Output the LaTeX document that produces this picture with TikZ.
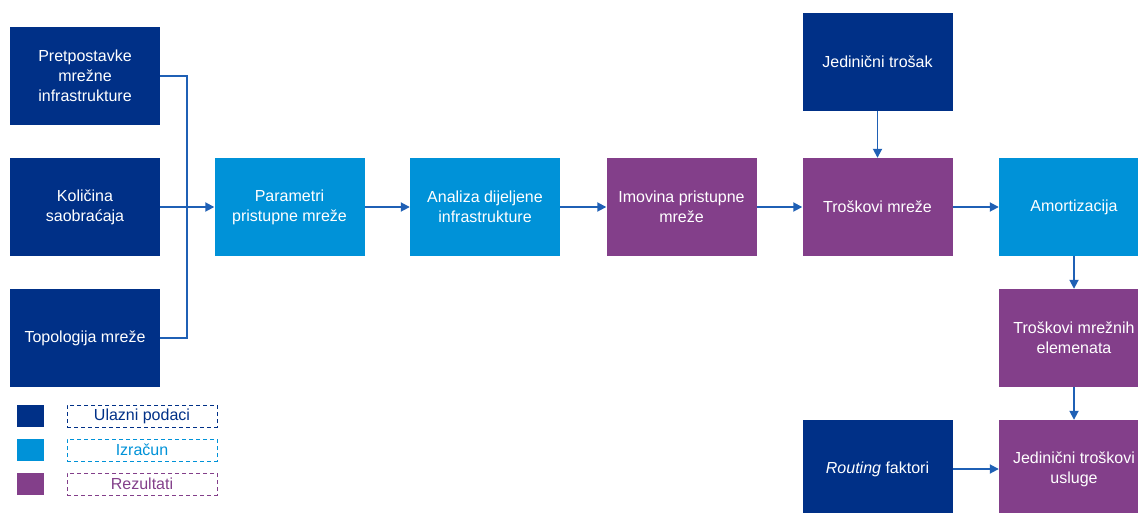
\documentclass[tikz,border=0pt]{standalone}
\usepackage{fontspec}
\setmainfont{Liberation Sans}
\usetikzlibrary{arrows.meta}
\definecolor{ulaz}{HTML}{003087}
\definecolor{izracun}{HTML}{0092D8}
\definecolor{rezultat}{HTML}{833F8A}
\definecolor{veza}{HTML}{1F60B5}
\tikzset{
  box/.style={minimum width=150pt, minimum height=98pt, inner sep=2pt, align=center, text=white, font=\fontsize{16}{20}\selectfont},
  ulazbox/.style={box, fill=ulaz},
  racunbox/.style={box, fill=izracun},
  rezbox/.style={box, fill=rezultat},
  tok/.style={veza, line width=1.8pt, -{Triangle[length=9pt,width=9pt]}},
  kvadrat/.style={minimum width=27pt, minimum height=22pt, inner sep=0pt},
  legbox/.style={draw, dash pattern=on 4pt off 3pt, line width=0.9pt, minimum width=150pt, minimum height=22pt, inner sep=0pt, font=\fontsize{16}{20}\selectfont}
}
\begin{document}
\begin{tikzpicture}[x=1pt,y=-1pt]
\useasboundingbox (0,0) rectangle (1138,512);
\clip (0,0) rectangle (1138,512);
% ulazni podaci
\node[ulazbox] (pretp) at (85,76) {Pretpostavke\\mrežne\\infrastrukture};
\node[ulazbox] (kolic) at (85,207) {Količina\\saobraćaja};
\node[ulazbox] (topol) at (85,338) {Topologija mreže};
\node[ulazbox] (jedtr) at (877.5,61.5) {Jedinični trošak};
\node[ulazbox] (routing) at (877.5,469) {\textit{Routing} faktori};
% izracun
\node[racunbox] (param) at (289.5,207) {Parametri\\pristupne mreže};
\node[racunbox] (analiza) at (485,207) {Analiza dijeljene\\infrastrukture};
\node[racunbox] (amort) at (1074,207) {Amortizacija};
% rezultati
\node[rezbox] (imov) at (681.5,207) {Imovina pristupne\\mreže};
\node[rezbox] (trmr) at (877.5,207) {Troškovi mreže};
\node[rezbox] (trel) at (1074,338) {Troškovi mrežnih\\elemenata};
\node[rezbox] (jedus) at (1074,469) {Jedinični troškovi\\usluge};
% veze
\draw[veza, line width=1.8pt] (pretp.east) -- ++(27,0) |- (topol.east);
\draw[tok] (kolic) -- (param);
\draw[tok] (param) -- (analiza);
\draw[tok] (analiza) -- (imov);
\draw[tok] (imov) -- (trmr);
\draw[tok] (jedtr) -- (trmr);
\draw[tok] (trmr) -- (amort);
\draw[tok] (amort) -- (trel);
\draw[tok] (trel) -- (jedus);
\draw[tok] (routing) -- (jedus);
% legenda
\node[kvadrat, fill=ulaz] (kv1) at (30,416) {};
\node[kvadrat, fill=izracun] (kv2) at (30,450) {};
\node[kvadrat, fill=rezultat] (kv3) at (30,484) {};
\node[legbox, ulaz] (leg1) at (142,416) {Ulazni podaci};
\node[legbox, izracun] (leg2) at (142,450) {Izračun};
\node[legbox, rezultat] (leg3) at (142,484) {Rezultati};
\end{tikzpicture}
\end{document}
